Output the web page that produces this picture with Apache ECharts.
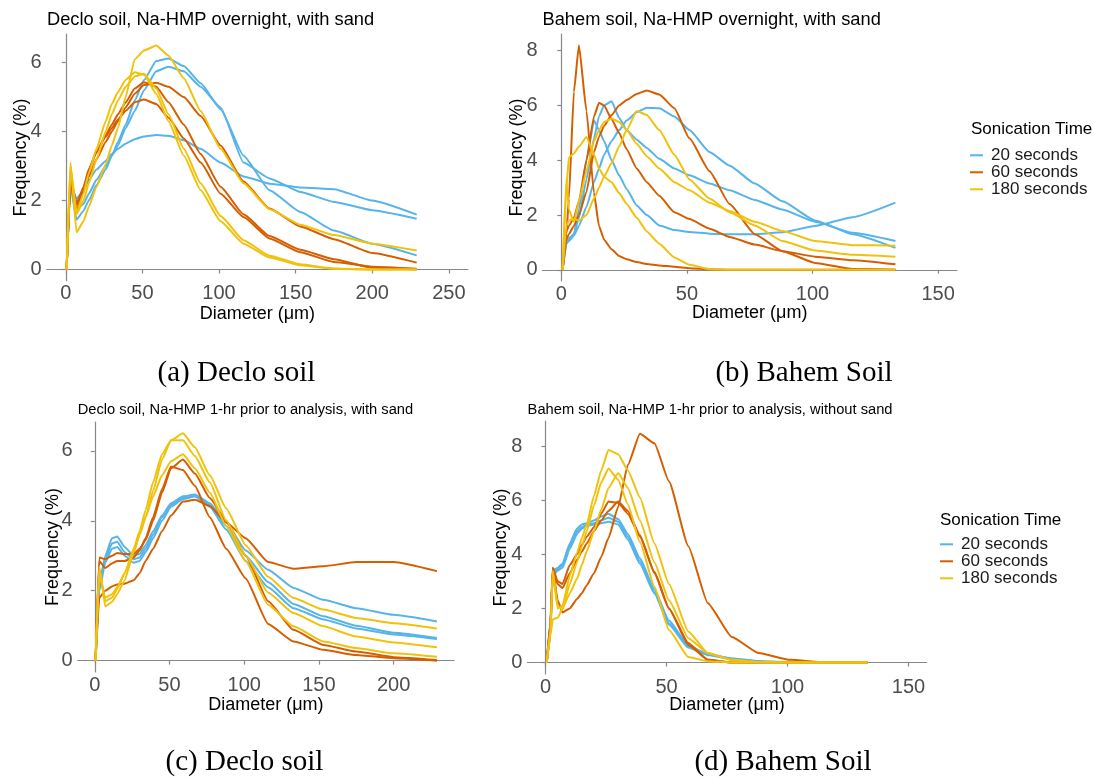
<!DOCTYPE html>
<html>
<head>
<meta charset="utf-8">
<script src="https://cdn.jsdelivr.net/npm/echarts@6/dist/echarts.min.js"></script>
<style>
  html, body { margin: 0; padding: 0; background: #fff; }
  #main { width: 1094px; height: 777px; }
</style>
</head>
<body>
<div id="main"></div>
<script>
// diameter bins (um)
var xDeclo = [0.5, 3, 7, 11.5, 15, 20, 26, 30, 34, 39, 45, 51, 59, 67, 77, 88, 101, 116, 133, 153, 175, 200, 229];
var xBahem = [0.5, 2, 3, 5, 7, 10, 13, 15, 17, 20, 23, 26, 30, 34, 39, 45, 51, 59, 67, 77, 88, 101, 116, 133];

// (a) Declo soil, overnight, with sand
var a20 = [
  [0, 2.5, 2.05, 2.3, 2.6, 2.9, 3.15, 3.35, 3.5, 3.65, 3.78, 3.86, 3.9, 3.88, 3.75, 3.5, 3.1, 2.7, 2.49, 2.38, 2.33, 2.0, 1.59],
  [0, 2.4, 1.45, 1.7, 2.0, 2.45, 2.9, 3.3, 3.7, 4.2, 4.9, 5.5, 6.05, 6.12, 5.9, 5.4, 4.65, 3.3, 2.3, 1.67, 1.13, 0.75, 0.41],
  [0, 2.6, 1.72, 1.9, 2.2, 2.6, 3.0, 3.3, 3.6, 4.1, 4.6, 5.2, 5.75, 5.88, 5.75, 5.3, 4.7, 3.1, 2.64, 2.25, 1.96, 1.72, 1.47]
];
var a60 = [
  [0, 2.6, 1.95, 2.3, 2.7, 3.2, 3.7, 4.0, 4.3, 4.7, 5.1, 5.35, 5.42, 5.3, 5.0, 4.45, 3.6, 2.55, 1.77, 1.25, 0.88, 0.48, 0.2],
  [0, 2.6, 1.85, 2.4, 2.9, 3.4, 3.9, 4.2, 4.5, 4.85, 5.25, 5.43, 5.3, 4.85, 4.2, 3.35, 2.4, 1.6, 0.97, 0.57, 0.3, 0.05, 0],
  [0, 2.5, 1.7, 2.3, 2.9, 3.4, 3.85, 4.1, 4.35, 4.6, 4.85, 4.93, 4.8, 4.4, 3.8, 3.1, 2.2, 1.52, 0.9, 0.5, 0.22, 0.08, 0.02]
];
var a180 = [
  [0, 3.1, 1.08, 1.4, 1.82, 2.4, 3.05, 3.6, 4.1, 5.0, 6.1, 6.35, 6.5, 6.2, 5.55, 4.6, 3.5, 2.5, 1.75, 1.3, 1.0, 0.75, 0.55],
  [0, 3.0, 1.65, 2.2, 2.8, 3.5, 4.3, 4.8, 5.15, 5.5, 5.72, 5.65, 5.1, 4.3, 3.3, 2.3, 1.4, 0.75, 0.35, 0.12, 0.02, 0, 0],
  [0, 2.9, 1.6, 2.0, 2.5, 3.2, 4.0, 4.5, 4.9, 5.3, 5.6, 5.68, 5.25, 4.5, 3.5, 2.5, 1.55, 0.85, 0.4, 0.15, 0.03, 0, 0]
];

// (b) Bahem soil, overnight, with sand
var b20 = [
  [0, 1.0, 1.1, 1.3, 2.2, 4.0, 5.45, 5.1, 4.7, 4.0, 3.45, 2.95, 2.35, 2.0, 1.62, 1.45, 1.38, 1.32, 1.3, 1.3, 1.37, 1.6, 1.92, 2.45],
  [0, 1.0, 1.15, 1.3, 1.9, 3.3, 4.8, 5.6, 6.0, 6.15, 5.55, 5.1, 4.75, 4.45, 4.05, 3.7, 3.45, 3.15, 2.9, 2.55, 2.2, 1.75, 1.35, 1.05],
  [0, 0.95, 1.05, 1.25, 1.6, 2.3, 3.2, 3.7, 4.2, 4.7, 5.1, 5.45, 5.75, 5.92, 5.9, 5.6, 5.1, 4.3, 3.8, 3.15, 2.5, 1.8, 1.3, 0.8]
];
var b60 = [
  [0, 1.3, 2.6, 6.5, 8.2, 5.8, 2.8, 1.6, 1.1, 0.75, 0.5, 0.38, 0.28, 0.21, 0.16, 0.11, 0.06, 0.02, 0, 0, 0, 0, 0, 0],
  [0, 1.4, 1.6, 1.9, 2.5, 4.0, 5.6, 6.1, 6.0, 5.5, 5.0, 4.4, 3.7, 3.2, 2.7, 2.1, 1.85, 1.5, 1.2, 0.92, 0.68, 0.48, 0.35, 0.2],
  [0, 1.1, 1.3, 1.6, 2.0, 2.85, 4.3, 4.85, 5.25, 5.65, 6.0, 6.2, 6.42, 6.55, 6.4, 5.9, 4.8, 3.6, 2.4, 1.3, 0.68, 0.25, 0.03, 0]
];
var b180 = [
  [0, 3.0, 4.1, 4.25, 4.5, 4.85, 4.2, 3.7, 3.4, 3.2, 2.8, 2.4, 1.9, 1.4, 0.95, 0.45, 0.18, 0.02, 0, 0, 0, 0, 0, 0],
  [0, 3.3, 2.2, 1.75, 2.5, 3.6, 4.7, 5.1, 5.4, 5.52, 5.4, 5.1, 4.6, 4.15, 3.7, 3.2, 2.9, 2.45, 2.15, 1.75, 1.42, 1.05, 0.9, 0.88],
  [0, 1.6, 1.8, 1.85, 1.8, 2.0, 2.6, 3.0, 3.4, 3.9, 4.5, 5.1, 5.8, 5.65, 5.1, 4.2, 3.3, 2.6, 2.1, 1.62, 1.05, 0.7, 0.55, 0.48]
];

// (c) Declo soil, 1-hr prior, with sand
var c20 = [
  [0, 2.2, 3.0, 3.5, 3.55, 3.25, 3.0, 3.05, 3.3, 3.7, 4.15, 4.5, 4.7, 4.75, 4.5, 3.95, 3.15, 2.6, 2.08, 1.74, 1.5, 1.31, 1.12],
  [0, 2.1, 2.9, 3.35, 3.4, 3.1, 2.9, 2.95, 3.2, 3.6, 4.1, 4.45, 4.65, 4.7, 4.45, 3.85, 3.0, 2.25, 1.62, 1.27, 1.0, 0.8, 0.65],
  [0, 2.0, 2.8, 3.2, 3.25, 3.0, 2.8, 2.85, 3.1, 3.5, 4.0, 4.4, 4.62, 4.7, 4.4, 3.75, 2.85, 2.1, 1.5, 1.18, 0.92, 0.75, 0.62]
];
var c60 = [
  [0, 1.8, 2.0, 2.12, 2.18, 2.2, 2.3, 2.5, 2.85, 3.2, 3.7, 4.15, 4.55, 4.6, 4.42, 3.95, 3.5, 2.82, 2.63, 2.7, 2.82, 2.82, 2.56],
  [0, 2.95, 2.9, 3.0, 3.08, 3.05, 3.05, 3.2, 3.45, 4.0, 4.8, 5.5, 5.75, 5.35, 4.65, 4.0, 3.0, 1.7, 0.88, 0.45, 0.26, 0.1, 0.02],
  [0, 2.85, 2.65, 2.78, 2.85, 2.85, 2.95, 3.15, 3.5, 4.1, 4.9, 5.55, 5.45, 5.0, 4.1, 3.2, 2.35, 1.05, 0.55, 0.31, 0.16, 0.07, 0]
];
var c180 = [
  [0, 2.7, 1.55, 1.68, 1.9, 2.3, 3.1, 3.6, 4.1, 4.85, 5.75, 6.3, 6.5, 6.1, 5.3, 4.35, 3.3, 2.4, 1.79, 1.46, 1.22, 1.07, 0.92],
  [0, 2.6, 1.7, 1.8, 2.05, 2.5, 3.2, 3.7, 4.3, 5.1, 5.9, 6.3, 6.3, 5.85, 5.1, 4.0, 3.0, 1.95, 1.36, 0.98, 0.69, 0.52, 0.38],
  [0, 2.5, 1.8, 1.9, 2.1, 2.5, 3.1, 3.6, 4.1, 4.7, 5.3, 5.7, 5.9, 5.5, 4.8, 3.85, 2.85, 1.6, 0.98, 0.55, 0.36, 0.21, 0.11]
];

// (d) Bahem soil, 1-hr prior, without sand
var d20 = [
  [0, 1.5, 3.4, 3.5, 3.65, 4.4, 4.95, 5.1, 5.15, 5.25, 5.4, 5.5, 5.3, 4.75, 3.85, 2.7, 1.55, 0.62, 0.32, 0.15, 0.05, 0, 0, 0],
  [0, 1.4, 3.3, 3.45, 3.6, 4.3, 4.85, 5.0, 5.1, 5.15, 5.25, 5.35, 5.2, 4.65, 3.75, 2.6, 1.45, 0.58, 0.3, 0.14, 0.05, 0.01, 0, 0],
  [0, 1.3, 3.2, 3.4, 3.5, 4.2, 4.75, 4.95, 5.05, 5.1, 5.15, 5.2, 5.1, 4.55, 3.65, 2.55, 1.4, 0.55, 0.28, 0.12, 0.04, 0, 0, 0]
];
var d60 = [
  [0, 1.0, 3.5, 2.3, 1.85, 2.0, 2.35, 2.56, 2.85, 3.3, 3.9, 4.6, 5.75, 7.3, 8.45, 8.1, 6.7, 4.3, 2.2, 0.94, 0.35, 0.1, 0, 0],
  [0, 1.5, 3.5, 3.0, 2.9, 3.6, 4.0, 4.35, 4.65, 5.0, 5.5, 5.95, 5.9, 5.5, 4.65, 3.35, 2.0, 0.65, 0.1, 0, 0, 0, 0, 0],
  [0, 1.3, 3.4, 2.9, 2.75, 3.3, 3.8, 4.1, 4.4, 4.85, 5.25, 5.6, 5.95, 5.6, 4.7, 3.3, 2.0, 0.72, 0.1, 0, 0, 0, 0, 0]
];
var d180 = [
  [0, 1.0, 3.4, 2.0, 2.1, 3.2, 4.05, 4.6, 5.1, 6.15, 7.1, 7.85, 7.7, 7.1, 6.1, 4.4, 2.9, 1.15, 0.35, 0.08, 0.02, 0, 0, 0],
  [0, 1.2, 3.3, 2.1, 1.95, 2.9, 3.7, 4.3, 4.85, 5.8, 6.65, 7.17, 6.75, 5.85, 4.45, 2.8, 1.2, 0.2, 0.05, 0, 0, 0, 0, 0],
  [0, 1.0, 1.6, 1.65, 2.0, 2.55, 3.1, 3.6, 4.1, 4.85, 5.65, 6.45, 7.0, 6.45, 5.25, 3.7, 2.3, 0.9, 0.35, 0.1, 0.02, 0, 0, 0]
];

var xTicksDeclo = [0, 50, 100, 150, 200];
var xTicksDecloA = [0, 50, 100, 150, 200, 250];
var xTicksBahem = [0, 50, 100, 150];
var yTicks6 = [0, 2, 4, 6];
var yTicks8 = [0, 2, 4, 6, 8];

var groups = ['20 seconds', '60 seconds', '180 seconds'];
var colors = ['#56B4E9', '#D55E00', '#F0C20C'];

var sans = 'Liberation Sans, Arial, sans-serif';
var serif = 'Liberation Serif, Times New Roman, serif';

function xAxisOf(idx, min, max, ticks, gap) {
  return {
    type: 'value', gridIndex: idx, min: min, max: max,
    name: 'Diameter (μm)', nameLocation: 'middle', nameGap: gap, nameMoveOverlap: false,
    nameTextStyle: { fontFamily: sans, fontSize: 18, color: '#000' },
    axisLine: { show: true, lineStyle: { color: '#888', width: 1.2 } },
    axisTick: { show: true, length: 4, customValues: ticks, lineStyle: { color: '#888', width: 1.2 } },
    axisLabel: { customValues: ticks, margin: 3, fontFamily: sans, fontSize: 20, color: '#4d4d4d' },
    splitLine: { show: false }
  };
}
function yAxisOf(idx, min, max, ticks, gap) {
  return {
    type: 'value', gridIndex: idx, min: min, max: max,
    name: 'Frequency (%)', nameLocation: 'middle', nameGap: gap, nameMoveOverlap: false,
    nameTextStyle: { fontFamily: sans, fontSize: 18, color: '#000' },
    axisLine: { show: true, lineStyle: { color: '#888', width: 1.2 } },
    axisTick: { show: true, length: 4, customValues: ticks, lineStyle: { color: '#888', width: 1.2 } },
    axisLabel: { customValues: ticks, margin: 5, fontFamily: sans, fontSize: 20, color: '#4d4d4d' },
    splitLine: { show: false }
  };
}

var series = [];
function addPanel(idx, xs, sets) {
  // sets: [20s, 60s, 180s], each a list of replicate curves
  for (var g = 0; g < sets.length; g++) {
    for (var r = 0; r < sets[g].length; r++) {
      var ys = sets[g][r];
      series.push({
        name: groups[g],
        type: 'line',
        xAxisIndex: idx, yAxisIndex: idx,
        data: xs.map(function (x, i) { return [x, ys[i]]; }),
        showSymbol: false,
        smooth: 0.15,
        smoothMonotone: 'x',
        itemStyle: { color: colors[g] },
        lineStyle: { color: colors[g], width: 2 },
        emphasis: { disabled: true },
        silent: true
      });
    }
  }
}
addPanel(0, xDeclo, [a20, a60, a180]);
addPanel(1, xBahem, [b20, b60, b180]);
addPanel(2, xDeclo, [c20, c60, c180]);
addPanel(3, xBahem, [d20, d60, d180]);

function titleAt(text, left, top, size) {
  return { text: text, left: left, top: top, padding: 0,
    textStyle: { fontFamily: sans, fontSize: size, fontWeight: 'normal', color: '#000' } };
}
function caption(text, cx, top) {
  return { text: text, left: cx, top: top, padding: 0, textAlign: 'center',
    textStyle: { fontFamily: serif, fontSize: 29, fontWeight: 'normal', color: '#000' } };
}
function legendAt(left, top) {
  return {
    orient: 'vertical', left: left, top: top, padding: 0, itemGap: 0,
    data: groups, icon: 'rect', itemWidth: 13, itemHeight: 2,
    selectedMode: false,
    textStyle: { fontFamily: sans, fontSize: 17, color: '#1a1a1a', lineHeight: 16.4, padding: [0, 0, 0, 3] }
  };
}

var chart = echarts.init(document.getElementById('main'), null, { renderer: 'canvas' });
chart.setOption({
  animation: false,
  backgroundColor: '#fff',
  title: [
    titleAt('Declo soil, Na-HMP overnight, with sand', 47, 11, 18.3),
    titleAt('Bahem soil, Na-HMP overnight, with sand', 542.5, 11, 18.3),
    titleAt('Declo soil, Na-HMP 1-hr prior to analysis, with sand', 77.7, 402.5, 14.7),
    titleAt('Bahem soil, Na-HMP 1-hr prior to analysis, without sand', 527.6, 402.5, 14.7),
    titleAt('Sonication Time', 971, 120.5, 17),
    titleAt('Sonication Time', 940, 511.5, 17),
    caption('(a) Declo soil', 236.5, 358.5),
    caption('(b) Bahem Soil', 804, 358.5),
    caption('(c) Declo soil', 244.5, 747.5),
    caption('(d) Bahem Soil', 783, 747.5)
  ],
  legend: [legendAt(970, 146.8), legendAt(940, 535.8)],
  grid: [
    { left: 46.7, top: 34.2, width: 421.3, height: 246.5 },
    { left: 542.5, top: 34, width: 414.5, height: 247 },
    { left: 77.7, top: 422, width: 376.3, height: 250 },
    { left: 527.4, top: 421, width: 399.3, height: 253 }
  ],
  xAxis: [
    xAxisOf(0, -12.5, 262.5, xTicksDecloA, 24),
    xAxisOf(1, -7.5, 157.5, xTicksBahem, 23.5),
    xAxisOf(2, -11.45, 240.45, xTicksDeclo, 24),
    xAxisOf(3, -7.5, 157.5, xTicksBahem, 22.5)
  ],
  yAxis: [
    yAxisOf(0, -0.325, 6.825, yTicks6, 17),
    yAxisOf(1, -0.41, 8.61, yTicks8, 16.5),
    yAxisOf(2, -0.325, 6.825, yTicks6, 16),
    yAxisOf(3, -0.425, 8.925, yTicks8, 17)
  ],
  series: series
});
</script>
</body>
</html>
